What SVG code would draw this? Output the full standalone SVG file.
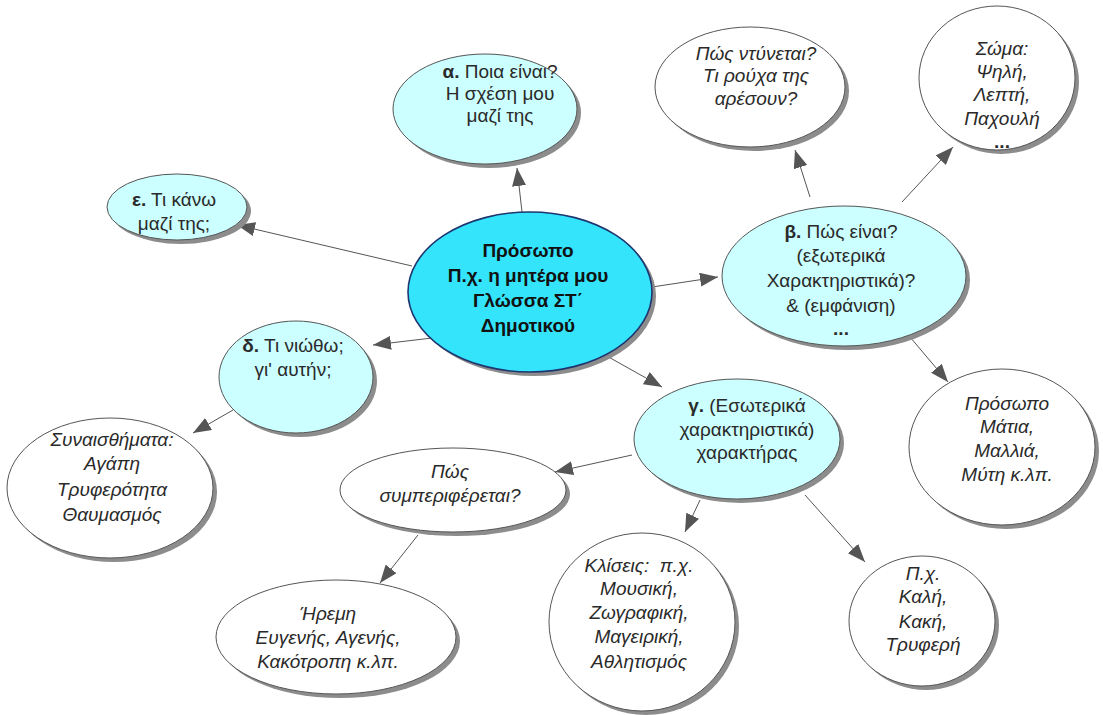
<svg xmlns="http://www.w3.org/2000/svg" width="1103" height="715" viewBox="0 0 1103 715">
<style>
.sh{fill:#8c8c8c}
.w{fill:#ffffff;stroke:#555;stroke-width:1}
.c{fill:#ccffff;stroke:#555;stroke-width:1}
.m{fill:#33e4fb;stroke:#1d3570;stroke-width:1.6}
text{font-family:"Liberation Sans",Arial,sans-serif;font-size:19px;fill:#2a2a2a;text-anchor:middle}
.i{font-style:italic}
.b{font-weight:bold}
.mt{font-weight:bold;fill:#111}
.con line{stroke:#555;stroke-width:1;marker-end:url(#ah)}
</style>
<defs>
<marker id="ah" markerUnits="userSpaceOnUse" markerWidth="20" markerHeight="14" refX="18" refY="7" orient="auto">
<path d="M0,0 L18,7 L0,14 z" fill="#555"/>
</marker>
</defs>
<rect width="1103" height="715" fill="#fff"/>
<g id="connectors" class="con">
<line x1="522" y1="212" x2="517" y2="168"/>
<line x1="412" y1="266" x2="237" y2="225"/>
<line x1="432" y1="338" x2="373" y2="345"/>
<line x1="652" y1="287" x2="718" y2="277"/>
<line x1="605" y1="355" x2="662" y2="387"/>
<line x1="810" y1="197" x2="795" y2="150"/>
<line x1="902" y1="202" x2="953" y2="147"/>
<line x1="910" y1="337" x2="948" y2="382"/>
<line x1="233" y1="410" x2="193" y2="433"/>
<line x1="632" y1="455" x2="555" y2="472"/>
<line x1="418" y1="535" x2="380" y2="583"/>
<line x1="700" y1="500" x2="685" y2="532"/>
<line x1="805" y1="495" x2="865" y2="562"/>
</g>
<g id="center">
<ellipse class="sh" cx="534" cy="296" rx="122" ry="80"/>
<ellipse class="m" cx="530" cy="292" rx="122" ry="80"/>
<text class="mt" x="528" y="257">Πρόσωπο</text>
<text class="mt" x="528" y="282">Π.χ. η μητέρα μου</text>
<text class="mt" x="528" y="307">Γλώσσα ΣΤ΄</text>
<text class="mt" x="528" y="332">Δημοτικού</text>
</g>
<g id="alpha">
<ellipse class="sh" cx="489" cy="113" rx="92" ry="55"/>
<ellipse class="c" cx="485" cy="109" rx="92" ry="55"/>
<text x="500" y="78"><tspan class="b">α.</tspan> Ποια είναι?</text>
<text x="500" y="100">Η σχέση μου</text>
<text x="500" y="122">μαζί της</text>
</g>
<g id="epsilon">
<ellipse class="sh" cx="181" cy="211" rx="70" ry="33"/>
<ellipse class="c" cx="177" cy="207" rx="70" ry="33"/>
<text x="174" y="206"><tspan class="b">ε.</tspan> Τι κάνω</text>
<text x="174" y="230">μαζί της;</text>
</g>
<g id="delta">
<ellipse class="sh" cx="300" cy="381" rx="77" ry="56"/>
<ellipse class="c" cx="296" cy="377" rx="77" ry="56"/>
<text x="293" y="352"><tspan class="b">δ.</tspan> Τι νιώθω;</text>
<text x="293" y="376">γι' αυτήν;</text>
</g>
<g id="beta">
<ellipse class="sh" cx="848" cy="280" rx="122" ry="70"/>
<ellipse class="c" cx="844" cy="276" rx="122" ry="70"/>
<text x="841" y="238"><tspan class="b">β.</tspan> Πώς είναι?</text>
<text x="841" y="262">(εξωτερικά</text>
<text x="841" y="287">Χαρακτηριστικά)?</text>
<text x="841" y="312">&amp; (εμφάνιση)</text>
<text class="b" x="841" y="335">...</text>
</g>
<g id="gamma">
<ellipse class="sh" cx="741" cy="443" rx="103" ry="60"/>
<ellipse class="c" cx="737" cy="439" rx="103" ry="60"/>
<text x="747" y="412"><tspan class="b">γ.</tspan> (Εσωτερικά</text>
<text x="747" y="436">χαρακτηριστικά)</text>
<text x="747" y="459">χαρακτήρας</text>
</g>
<g id="clothes">
<ellipse class="sh" cx="754" cy="91" rx="95" ry="60"/>
<ellipse class="w" cx="750" cy="87" rx="95" ry="60"/>
<text class="i" x="756" y="60">Πώς ντύνεται?</text>
<text class="i" x="756" y="82">Τι ρούχα της</text>
<text class="i" x="756" y="105">αρέσουν?</text>
</g>
<g id="body">
<ellipse class="sh" cx="1001" cy="82" rx="78" ry="72"/>
<ellipse class="w" cx="997" cy="78" rx="78" ry="72"/>
<text class="i" x="1002" y="55">Σώμα:</text>
<text class="i" x="1002" y="78">Ψηλή,</text>
<text class="i" x="1002" y="101">Λεπτή,</text>
<text class="i" x="1002" y="125">Παχουλή</text>
<text class="b" x="1002" y="148">...</text>
</g>
<g id="face">
<ellipse class="sh" cx="1006" cy="451" rx="93" ry="78"/>
<ellipse class="w" cx="1002" cy="447" rx="93" ry="78"/>
<text class="i" x="1007" y="410">Πρόσωπο</text>
<text class="i" x="1007" y="433">Μάτια,</text>
<text class="i" x="1007" y="457">Μαλλιά,</text>
<text class="i" x="1007" y="481">Μύτη κ.λπ.</text>
</g>
<g id="feelings">
<ellipse class="sh" cx="114" cy="492" rx="103" ry="70"/>
<ellipse class="w" cx="110" cy="488" rx="103" ry="70"/>
<text class="i" x="112" y="446">Συναισθήματα:</text>
<text class="i" x="112" y="470">Αγάπη</text>
<text class="i" x="112" y="496">Τρυφερότητα</text>
<text class="i" x="112" y="521">Θαυμασμός</text>
</g>
<g id="behaviour">
<ellipse class="sh" cx="457" cy="494" rx="113" ry="42"/>
<ellipse class="w" cx="453" cy="490" rx="113" ry="42"/>
<text class="i" x="450" y="478">Πώς</text>
<text class="i" x="450" y="502">συμπεριφέρεται?</text>
</g>
<g id="calm">
<ellipse class="sh" cx="340" cy="641" rx="120" ry="57"/>
<ellipse class="w" cx="336" cy="637" rx="120" ry="57"/>
<text class="i" x="328" y="620">Ήρεμη</text>
<text class="i" x="328" y="644">Ευγενής, Αγενής,</text>
<text class="i" x="328" y="668">Κακότροπη κ.λπ.</text>
</g>
<g id="hobbies">
<ellipse class="sh" cx="646" cy="626" rx="93" ry="89"/>
<ellipse class="w" cx="642" cy="622" rx="93" ry="89"/>
<text class="i" x="639" y="572">Κλίσεις:&#160; π.χ.</text>
<text class="i" x="639" y="595">Μουσική,</text>
<text class="i" x="639" y="619">Ζωγραφική,</text>
<text class="i" x="639" y="643">Μαγειρική,</text>
<text class="i" x="639" y="668">Αθλητισμός</text>
</g>
<g id="character">
<ellipse class="sh" cx="926" cy="625" rx="73" ry="65"/>
<ellipse class="w" cx="922" cy="621" rx="73" ry="65"/>
<text class="i" x="923" y="580">Π.χ.</text>
<text class="i" x="923" y="603">Καλή,</text>
<text class="i" x="923" y="628">Κακή,</text>
<text class="i" x="923" y="651">Τρυφερή</text>
</g>
</svg>
